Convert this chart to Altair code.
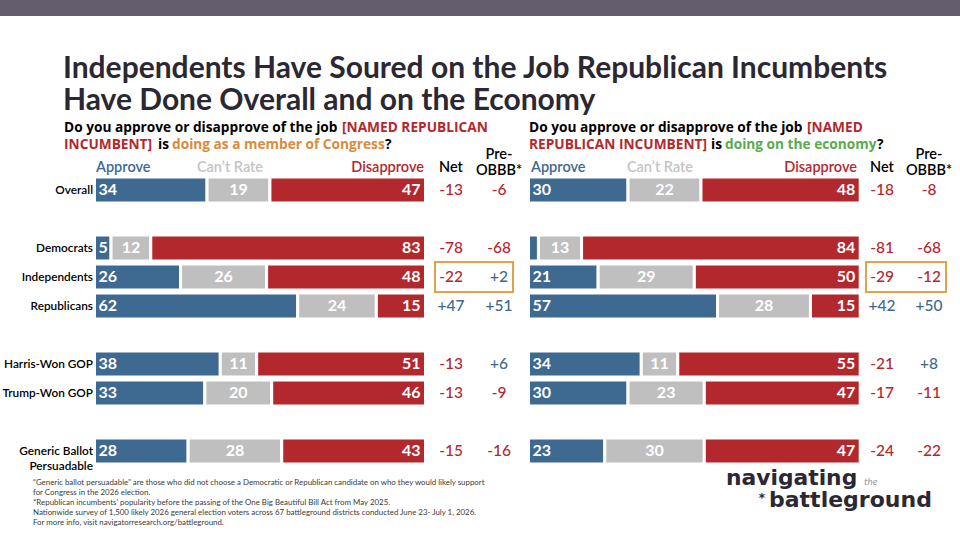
import altair as alt
import pandas as pd

# ---- survey results -------------------------------------------------------
groups = ["Overall", "Democrats", "Independents", "Republicans",
          "Harris-Won GOP", "Trump-Won GOP", "Generic Ballot Persuadable"]
group_labels = ["Overall", "Democrats", "Independents", "Republicans",
                "Harris-Won GOP", "Trump-Won GOP", "Generic Ballot\nPersuadable"]
responses = ["Approve", "Can’t Rate", "Disapprove"]

# job as a member of Congress
congress_approve = [34, 5, 26, 62, 38, 33, 28]
congress_cant_rate = [19, 12, 26, 24, 11, 20, 28]
congress_disapprove = [47, 83, 48, 15, 51, 46, 43]
congress_net = [-13, -78, -22, 47, -13, -13, -15]
congress_pre_obbb = [-6, -68, 2, 51, 6, -9, -16]

# job on the economy
economy_approve = [30, 3, 21, 57, 34, 30, 23]
economy_cant_rate = [22, 13, 29, 28, 11, 23, 30]
economy_disapprove = [48, 84, 50, 15, 55, 47, 47]
economy_net = [-18, -81, -29, 42, -21, -17, -24]
economy_pre_obbb = [-8, -68, -12, 50, 8, -11, -22]

highlight_group = "Independents"

footnotes = [
    "“Generic ballot persuadable” are those who did not choose a Democratic or Republican candidate on who they would likely support",
    "for Congress in the 2026 election.",
    "*Republican incumbents’ popularity before the passing of the One Big Beautiful Bill Act from May 2025.",
    "Nationwide survey of 1,500 likely 2026 general election voters across 67 battleground districts conducted June 23- July 1, 2026.",
    "For more info, visit navigatorresearch.org/battleground.",
]

# ---- styling ----------------------------------------------------------------
BLUE = "#3e6990"
GRAY = "#bfbfbf"
RED = "#b3282d"
ORANGE = "#d98b3e"
BOX = "#e0a54c"
GREEN = "#5aab4f"
DARK = "#2b2833"
TOPBAR = "#645d6e"
FONT = "Lato"
SUB_FONT = "Open Sans"
LOGO_FONT = "DejaVu Sans"

# rows with blank spacer bands between the blocks
row_domain = ["Overall", "sp1", "Democrats", "Independents", "Republicans", "sp2",
              "Harris-Won GOP", "Trump-Won GOP", "sp3", "Generic Ballot Persuadable"]
y_scale = alt.Scale(domain=row_domain, range=[175.5, 465.5],
                    paddingInner=0.1034, paddingOuter=0.0517)
Y = alt.Y("group:N", scale=y_scale, axis=None)

one_row = pd.DataFrame({"k": [0]})


def label(text, x, y, size, color="black", weight="bold", align="left",
          baseline="alphabetic", style="normal", line_height=None, font=FONT):
    kw = dict(align=align, baseline=baseline, font=font, fontSize=size,
              fontWeight=weight, color=color, fontStyle=style)
    if line_height is not None:
        kw.update(lineBreak="\n", lineHeight=line_height)
    return alt.Chart(one_row).mark_text(**kw).encode(
        x=alt.value(x), y=alt.value(y), text=alt.value(text))


def panel(approve, cant, disapprove, net, pre, x_range, net_x, pre_x, box_x,
          show_groups):
    rows = []
    for g, a, c, d in zip(groups, approve, cant, disapprove):
        for k, (r, v) in enumerate(zip(responses, (a, c, d))):
            rows.append({"group": g, "response": r, "value": v, "rank": k})
    bars = pd.DataFrame(rows)
    nets = pd.DataFrame({"group": groups, "net": net, "pre": pre,
                         "label": group_labels})

    base = alt.Chart(bars).transform_stack(
        stack="value", as_=["v0", "v1"], groupby=["group"],
        sort=[alt.SortField("rank", order="ascending")], offset="normalize")
    xs = alt.Scale(domain=[0, 1], range=x_range)

    rects = base.mark_bar(stroke="white", strokeWidth=3).encode(
        x=alt.X("v0:Q", scale=xs, axis=None), x2="v1:Q", y=Y,
        color=alt.Color("response:N",
                        scale=alt.Scale(domain=responses, range=[BLUE, GRAY, RED]),
                        legend=None))
    txt = dict(font=FONT, fontSize=16, fontWeight="bold", color="white",
               baseline="middle")
    lab_a = base.transform_filter(
        "datum.response == 'Approve' && datum.value >= 4"
    ).mark_text(align="left", dx=4, **txt).encode(x="v0:Q", y=Y, text="value:Q")
    lab_c = base.transform_filter("datum.response == 'Can’t Rate'").transform_calculate(
        mid="(datum.v0 + datum.v1) / 2"
    ).mark_text(align="center", **txt).encode(x="mid:Q", y=Y, text="value:Q")
    lab_d = base.transform_filter("datum.response == 'Disapprove'").mark_text(
        align="right", dx=-5, **txt).encode(x="v1:Q", y=Y, text="value:Q")

    nb = alt.Chart(nets).transform_calculate(
        net_txt="(datum.net > 0 ? '+' : '') + datum.net",
        pre_txt="(datum.pre > 0 ? '+' : '') + datum.pre")
    ntxt = dict(font=FONT, fontSize=15.5, fontWeight=500, baseline="middle",
                align="center")
    net_l = nb.mark_text(**ntxt).encode(
        x=alt.value(net_x), y=Y, text="net_txt:N",
        color=alt.condition("datum.net > 0", alt.value(BLUE), alt.value(RED)))
    pre_l = nb.mark_text(**ntxt).encode(
        x=alt.value(pre_x), y=Y, text="pre_txt:N",
        color=alt.condition("datum.pre > 0", alt.value(BLUE), alt.value(RED)))
    box = nb.transform_filter(alt.datum.group == highlight_group).mark_bar(
        height=30, fillOpacity=0, stroke=BOX, strokeWidth=2).encode(
        x=alt.value(box_x[0]), x2=alt.value(box_x[1]), y=Y)

    layers = [rects, lab_a, lab_c, lab_d, box, net_l, pre_l]
    if show_groups:
        layers.append(nb.mark_text(align="right", baseline="middle", font=FONT,
                                   fontSize=11.8, fontWeight=600, color="black",
                                   lineBreak="\n", lineHeight=15).encode(
            x=alt.value(93), y=Y, text="label:N"))
    return alt.layer(*layers)


left = panel(congress_approve, congress_cant_rate, congress_disapprove,
             congress_net, congress_pre_obbb, [94.5, 425.5], 451, 499,
             (435, 513), True)
right = panel(economy_approve, economy_cant_rate, economy_disapprove,
              economy_net, economy_pre_obbb, [528.5, 860.2], 882, 929,
              (866, 946), False)

top_bar = alt.Chart(one_row).mark_rect(color=TOPBAR).encode(
    x=alt.value(0), x2=alt.value(960), y=alt.value(0), y2=alt.value(16))

title = [
    label("Independents Have Soured on the Job Republican Incumbents", 63, 78, 30, DARK),
    label("Have Done Overall and on the Economy", 63, 110, 30, DARK),
]

SUB = 13.7


def sub(text, x, y, color="black"):
    return label(text, x, y, SUB, color, font=SUB_FONT)


subtitle = [
    sub("Do you approve or disapprove of the job", 64, 132),
    sub("[NAMED REPUBLICAN", 342, 132, RED),
    sub("INCUMBENT]", 64, 149, RED),
    sub("is", 158, 149),
    sub("doing as a member of Congress", 172, 149, ORANGE),
    sub("?", 385, 149),
    sub("Do you approve or disapprove of the job", 529, 132),
    sub("[NAMED", 807, 132, RED),
    sub("REPUBLICAN INCUMBENT]", 529, 149, RED),
    sub("is", 711, 149),
    sub("doing on the economy", 725, 149, GREEN),
    sub("?", 877, 149),
]

HDR = 14.5
headers = []
for ax, cx, dx, nx, px in [(96, 230, 424, 451, 499), (531, 660, 857, 882, 929)]:
    headers += [
        label("Approve", ax, 172, HDR, BLUE, weight=600),
        label("Can’t Rate", cx, 172, HDR, "#c4c4c4", weight=600, align="center"),
        label("Disapprove", dx, 172, HDR, RED, weight=600, align="right"),
        label("Net", nx, 172, HDR, "black", weight=600, align="center"),
        label("Pre-\nOBBB*", px, 159, HDR, "black", weight=600, align="center",
              line_height=15.5),
    ]

notes = label("\n".join(footnotes), 33, 484.5, 7.9, "#3a3a3a", weight="normal",
              line_height=10.2)

logo = [
    label("navigating", 726, 485, 21.8, DARK, weight="bold", font=LOGO_FONT),
    label("the", 864, 485, 10, "#9a9a9a", weight="normal", style="italic"),
    label("*", 765, 502, 12, DARK, weight="bold", align="right", font=LOGO_FONT),
    label("battleground", 769, 507, 22, DARK, weight="bold", font=LOGO_FONT),
]

chart = alt.layer(
    top_bar, *title, *subtitle, *headers, left, right, notes, *logo
).resolve_scale(x="independent").properties(
    width=960, height=540, autosize=alt.AutoSizeParams(type="none"), padding=0,
    background="white"
).configure_view(stroke=None)

chart.save("out.html", embed_options={"renderer": "svg", "actions": False})
